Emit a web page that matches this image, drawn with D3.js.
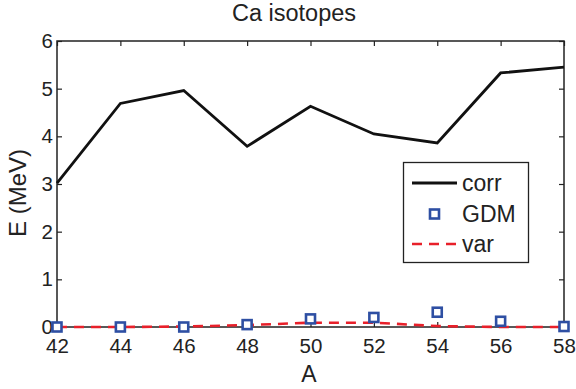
<!DOCTYPE html>
<html><head><meta charset="utf-8">
<script src="https://cdn.jsdelivr.net/npm/d3@7"></script>
<style>body{margin:0;background:#fff}svg{display:block}text{font-family:"Liberation Sans",Arial,Helvetica,sans-serif;fill:#222}</style>
</head><body>
<script>
const massNumbers = [42,44,46,48,50,52,54,56,58];
const corrValues = [3.02,4.69,4.96,3.79,4.63,4.05,3.86,5.33,5.45];
const gdmValues = [0.0,0.0,0.0,0.05,0.17,0.2,0.31,0.12,0.01];
const varValues = [0.0,0.0,0.01,0.04,0.09,0.09,0.02,0.0,0.0];
const xTicks = [42,44,46,48,50,52,54,56,58];
const yTicks = [0,1,2,3,4,5,6];
const seriesNames = ["corr","GDM","var"];

const W=576,H=389;
const m={l:57,r:564,t:41,b:327};
const svg=d3.select("body").append("svg").attr("width",W).attr("height",H);
const x=d3.scaleLinear().domain([42,58]).range([m.l,m.r]);
const y=d3.scaleLinear().domain([0,6]).range([m.b,m.t]);
const axisColor="#222";
const tl=5;

const gx=svg.append("g").attr("transform",`translate(0,${m.b})`)
  .call(d3.axisBottom(x).tickValues(xTicks).tickSize(-tl).tickPadding(11).tickFormat(d3.format("d")));
const gxt=svg.append("g").attr("transform",`translate(0,${m.t})`)
  .call(d3.axisTop(x).tickValues(xTicks).tickSize(-tl).tickFormat(""));
const gy=svg.append("g").attr("transform",`translate(${m.l},0)`)
  .call(d3.axisLeft(y).tickValues(yTicks).tickSize(-tl).tickPadding(4).tickFormat(d3.format("d")));
const gyr=svg.append("g").attr("transform",`translate(${m.r},0)`)
  .call(d3.axisRight(y).tickValues(yTicks).tickSize(-tl).tickFormat(""));
[gx,gxt,gy,gyr].forEach(g=>{
  g.select(".domain").remove();
  g.selectAll(".tick line").attr("stroke",axisColor).attr("stroke-width",1.2);
  g.selectAll(".tick text").style("font-size","20.5px").attr("fill","#222");
});
gx.selectAll(".tick text").attr("dy","0.71em");
svg.append("rect").attr("x",m.l).attr("y",m.t).attr("width",m.r-m.l).attr("height",m.b-m.t)
  .attr("fill","none").attr("stroke",axisColor).attr("stroke-width",1.5);

const line=d3.line().x((d,i)=>x(massNumbers[i])).y(d=>y(d));
svg.append("path").datum(corrValues).attr("d",line).attr("fill","none")
  .attr("stroke","#111").attr("stroke-width",2.8).attr("stroke-linejoin","miter");
svg.append("path").datum(varValues).attr("d",line).attr("fill","none")
  .attr("stroke","#e8202a").attr("stroke-width",2.6).attr("stroke-dasharray","10,7");
const blue="#2e4fa3";
svg.selectAll("rect.gdm").data(gdmValues).enter().append("rect").attr("class","gdm")
  .attr("x",(d,i)=>x(massNumbers[i])-4.5).attr("y",d=>y(d)-4.5)
  .attr("width",9).attr("height",9).attr("fill","#fff").attr("stroke",blue).attr("stroke-width",2.6);

svg.append("text").attr("x",294).attr("y",21).attr("text-anchor","middle").style("font-size","23.5px").text("Ca isotopes");
svg.append("text").attr("x",309).attr("y",382).attr("text-anchor","middle").style("font-size","23px").text("A");
svg.append("text").attr("transform","translate(26,193) rotate(-90)").attr("text-anchor","middle").style("font-size","24px").text("E (MeV)");

const lg=svg.append("g");
lg.append("rect").attr("x",403.5).attr("y",162.5).attr("width",125).attr("height",100)
  .attr("fill","#fff").attr("stroke","#222").attr("stroke-width",1.3);
const ly=[183,214,244];
lg.append("line").attr("x1",412).attr("x2",457).attr("y1",ly[0]).attr("y2",ly[0]).attr("stroke","#111").attr("stroke-width",2.8);
lg.append("rect").attr("x",430).attr("y",ly[1]-4.5).attr("width",9).attr("height",9).attr("fill","#fff").attr("stroke",blue).attr("stroke-width",2.6);
lg.append("line").attr("x1",412).attr("x2",457).attr("y1",ly[2]).attr("y2",ly[2]).attr("stroke","#e8202a").attr("stroke-width",2.6).attr("stroke-dasharray","10,7");
seriesNames.forEach((n,i)=>{
  lg.append("text").attr("x",462).attr("y",ly[i]).attr("dy","0.36em").style("font-size","23px").text(n);
});
</script>
</body></html>
